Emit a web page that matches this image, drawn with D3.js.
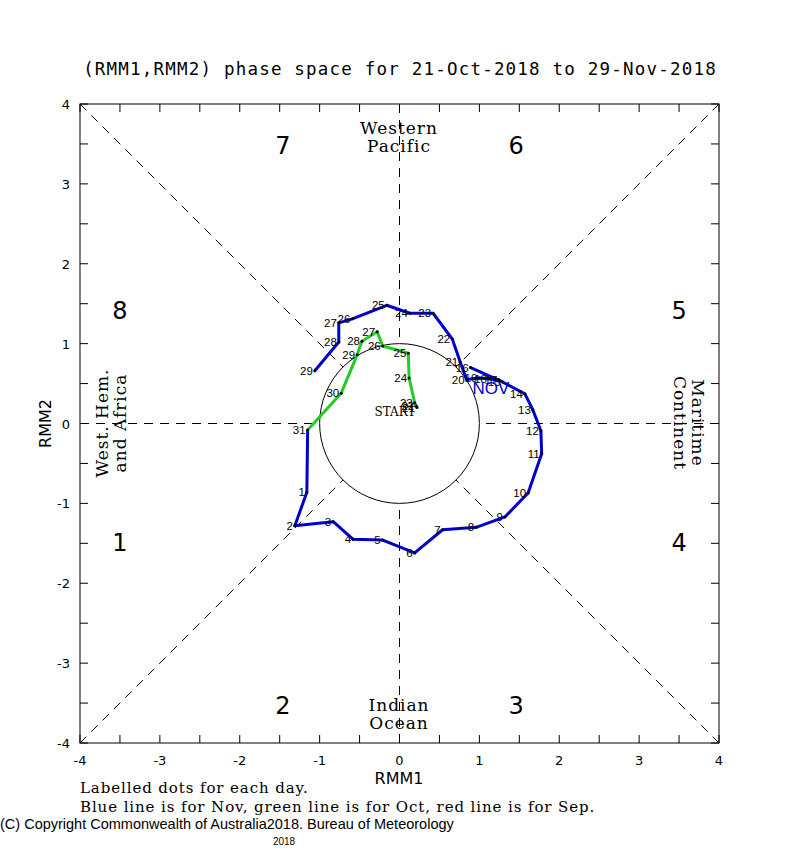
<!DOCTYPE html>
<html>
<head>
<meta charset="utf-8">
<script src="https://cdn.jsdelivr.net/npm/d3@7"></script>
<style>
  body { margin: 0; background: #fff; }
  svg { display: block; }
</style>
</head>
<body>
<svg width="800" height="850"></svg>
<script>
// Oct days (green) and Nov days (blue)
const octDays = [21, 22, 23, 24, 25, 26, 27, 28, 29, 30, 31];
const octRMM1 = [0.22, 0.21, 0.19, 0.12, 0.11, -0.21, -0.28, -0.47, -0.53, -0.73, -1.15];
const octRMM2 = [0.20, 0.22, 0.26, 0.57, 0.88, 0.97, 1.15, 1.03, 0.86, 0.38, -0.08];

const novDays = [1, 2, 3, 4, 5, 6, 7, 8, 9, 10, 11, 12, 13, 14, 15, 16, 17, 18, 19, 20, 21, 22, 23, 24, 25, 26, 27, 28, 29];
const novRMM1 = [-1.16, -1.31, -0.83, -0.58, -0.21, 0.19, 0.54, 0.96, 1.32, 1.61, 1.78, 1.77, 1.67, 1.57, 1.29, 0.89, 1.25, 1.12, 1.00, 0.84, 0.76, 0.66, 0.42, 0.13, -0.16, -0.59, -0.76, -0.76, -1.06];
const novRMM2 = [-0.86, -1.28, -1.23, -1.45, -1.46, -1.62, -1.33, -1.30, -1.17, -0.87, -0.38, -0.09, 0.17, 0.37, 0.52, 0.70, 0.54, 0.56, 0.57, 0.55, 0.77, 1.06, 1.38, 1.38, 1.48, 1.31, 1.26, 1.02, 0.66];

const xTicks = [-4, -3, -2, -1, 0, 1, 2, 3, 4];
const yTicks = [-4, -3, -2, -1, 0, 1, 2, 3, 4];

const phaseLabels = ["1", "2", "3", "4", "5", "6", "7", "8"];
const phaseX = [-3.5, -1.46, 1.46, 3.5, 3.5, 1.46, -1.46, -3.5];
const phaseY = [-1.48, -3.52, -3.52, -1.48, 1.42, 3.49, 3.49, 1.42];

const svg = d3.select("svg");

const x = d3.scaleLinear().domain([-4, 4]).range([80, 719]);
const y = d3.scaleLinear().domain([-4, 4]).range([743, 104]);

// title
svg.append("text")
  .attr("x", 400).attr("y", 75)
  .attr("text-anchor", "middle")
  .style("font-family", "DejaVu Sans Mono")
  .style("font-size", "17.5px")
  .style("letter-spacing", "1.2px")
  .text("(RMM1,RMM2) phase space for 21-Oct-2018 to 29-Nov-2018");

// dashed guide lines, stopping at the unit circle
const c = Math.SQRT1_2;
const guides = [
  [-4, -4, -c, -c], [4, 4, c, c], [-4, 4, -c, c], [4, -4, c, -c],
  [-4, 0, -1, 0], [4, 0, 1, 0], [0, 4, 0, 1], [0, -4, 0, -1]
];
svg.append("g").selectAll("line")
  .data(guides)
  .enter().append("line")
  .attr("x1", d => x(d[0])).attr("y1", d => y(d[1]))
  .attr("x2", d => x(d[2])).attr("y2", d => y(d[3]))
  .attr("stroke", "#000")
  .attr("stroke-width", 1)
  .attr("stroke-dasharray", "9,7");

svg.append("circle")
  .attr("cx", x(0)).attr("cy", y(0))
  .attr("r", x(1) - x(0))
  .attr("fill", "none")
  .attr("stroke", "#000")
  .attr("stroke-width", 1);

// frame and inward ticks every 0.5
svg.append("rect")
  .attr("x", x(-4)).attr("y", y(4))
  .attr("width", x(4) - x(-4)).attr("height", y(-4) - y(4))
  .attr("fill", "none").attr("stroke", "#000");

const minor = d3.range(-4, 4.01, 0.5);
const tickG = svg.append("g").attr("stroke", "#000");
minor.forEach(v => {
  tickG.append("line").attr("x1", x(v)).attr("x2", x(v)).attr("y1", y(-4)).attr("y2", y(-4) - 8);
  tickG.append("line").attr("x1", x(v)).attr("x2", x(v)).attr("y1", y(4)).attr("y2", y(4) + 8);
  tickG.append("line").attr("y1", y(v)).attr("y2", y(v)).attr("x1", x(-4)).attr("x2", x(-4) + 8);
  tickG.append("line").attr("y1", y(v)).attr("y2", y(v)).attr("x1", x(4)).attr("x2", x(4) - 8);
});

const tickFont = "DejaVu Sans";
svg.append("g").selectAll("text")
  .data(xTicks).enter().append("text")
  .attr("x", d => x(d)).attr("y", 765)
  .attr("text-anchor", "middle")
  .style("font-family", tickFont).style("font-size", "13px")
  .text(d => d);

svg.append("g").selectAll("text")
  .data(yTicks).enter().append("text")
  .attr("x", 70).attr("y", d => y(d) + 5)
  .attr("text-anchor", "end")
  .style("font-family", tickFont).style("font-size", "13px")
  .text(d => d);

svg.append("text")
  .attr("x", 399).attr("y", 784)
  .attr("text-anchor", "middle")
  .style("font-family", tickFont).style("font-size", "16px")
  .text("RMM1");

svg.append("text")
  .attr("transform", `translate(51,${y(0)}) rotate(-90)`)
  .attr("text-anchor", "middle")
  .style("font-family", tickFont).style("font-size", "16px")
  .text("RMM2");

// phase numbers
svg.append("g").selectAll("text")
  .data(phaseLabels).enter().append("text")
  .attr("x", (d, i) => x(phaseX[i]))
  .attr("y", (d, i) => y(phaseY[i]) + 9)
  .attr("text-anchor", "middle")
  .style("font-family", "DejaVu Sans")
  .style("font-size", "24px")
  .text(d => d);

// region names
const serif = "DejaVu Serif";
function twoLines(tx, ty, rot, a, b, gap) {
  const g = svg.append("g").attr("transform", `translate(${tx},${ty}) rotate(${rot})`);
  [a, b].forEach((t, i) => {
    g.append("text").attr("y", i * gap).attr("text-anchor", "middle")
      .style("font-family", serif).style("font-size", "17px")
      .style("letter-spacing", "1px").text(t);
  });
}
twoLines(399, 134, 0, "Western", "Pacific", 18);
twoLines(399, 711, 0, "Indian", "Ocean", 18);
twoLines(108, 423, -90, "West. Hem.", "and Africa", 18);
twoLines(692, 423, 90, "Maritime", "Continent", 18);

// tracks
const line = d3.line().x(d => x(d[0])).y(d => y(d[1]));

const octPts = octDays.map((d, i) => [octRMM1[i], octRMM2[i], d]);
const novPts = novDays.map((d, i) => [novRMM1[i], novRMM2[i], d]);
const novPath = [octPts[octPts.length - 1]].concat(novPts);

svg.append("path")
  .attr("d", line(octPts))
  .attr("fill", "none")
  .attr("stroke", "#22cc22")
  .attr("stroke-width", 3)
  .attr("stroke-linejoin", "round");

svg.append("path")
  .attr("d", line(novPath))
  .attr("fill", "none")
  .attr("stroke", "#0000cc")
  .attr("stroke-width", 3)
  .attr("stroke-linejoin", "round");

const allPts = octPts.concat(novPts);
svg.append("g").selectAll("circle")
  .data(allPts).enter().append("circle")
  .attr("cx", d => x(d[0])).attr("cy", d => y(d[1]))
  .attr("r", 1.5).attr("fill", "#000");

svg.append("g").selectAll("text")
  .data(allPts).enter().append("text")
  .attr("x", d => x(d[0]) - 2)
  .attr("y", d => y(d[1]) + 4)
  .attr("text-anchor", "end")
  .style("font-family", "Liberation Sans")
  .style("font-size", "11.5px")
  .text(d => d[2]);

svg.append("text")
  .attr("x", 395).attr("y", 416)
  .attr("text-anchor", "middle")
  .style("font-family", serif).style("font-size", "12px")
  .text("START");

svg.append("text")
  .attr("x", 491).attr("y", 394)
  .attr("text-anchor", "middle")
  .attr("fill", "#0000cc")
  .style("font-family", "Liberation Sans").style("font-size", "17px")
  .text("NOV");

// footnotes
const foot = svg.append("g")
  .style("font-family", serif).style("font-size", "15px")
  .style("letter-spacing", "0.9px");
foot.append("text").attr("x", 80).attr("y", 793)
  .text("Labelled dots for each day.");
foot.append("text").attr("x", 80).attr("y", 812)
  .text("Blue line is for Nov, green line is for Oct, red line is for Sep.");
svg.append("text").attr("x", 0).attr("y", 829)
  .style("font-family", "Liberation Sans").style("font-size", "14.5px")
  .text("(C) Copyright Commonwealth of Australia2018. Bureau of Meteorology");
svg.append("text").attr("x", 284).attr("y", 845)
  .attr("text-anchor", "middle")
  .style("font-family", "Liberation Sans").style("font-size", "10px")
  .text("2018");
</script>
</body>
</html>
